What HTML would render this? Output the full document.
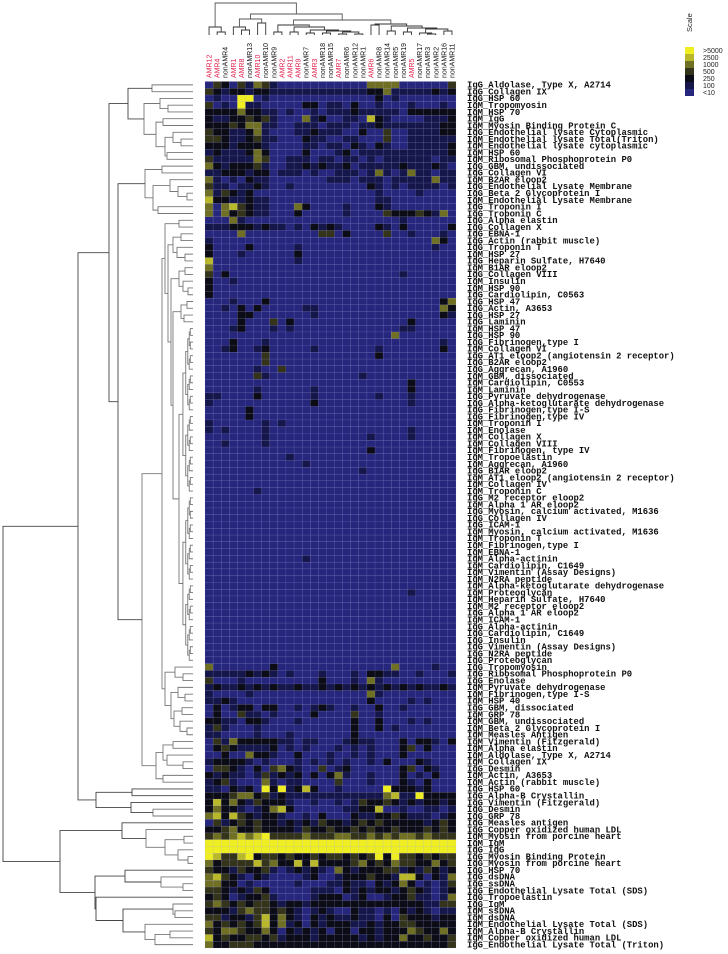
<!DOCTYPE html>
<html><head><meta charset="utf-8"><style>
html,body{margin:0;padding:0;background:#fff;}
svg{display:block;}
</style></head><body>
<svg id="chart" width="728" height="954" viewBox="0 0 728 954" xmlns="http://www.w3.org/2000/svg">
<g id="legend">
<text transform="translate(692,32) rotate(-90)" font-family="Liberation Sans, sans-serif" font-size="7.5" fill="#222">Scale</text>
</g>
<g id="topDendro"></g>
<g id="leftDendro"></g>
<g id="colLabels"></g>
<g id="cells"></g>
<g id="rowLabels"></g>
</svg>
<script>
const colLabels = ["AMR12","AMR4","nonAMR4","AMR1","AMR8","nonAMR13","AMR10","nonAMR10","nonAMR9","AMR2","AMR11","AMR9","nonAMR7","AMR3","nonAMR18","nonAMR15","AMR7","nonAMR6","nonAMR12","nonAMR1","AMR6","nonAMR8","nonAMR14","nonAMR5","nonAMR19","AMR5","nonAMR17","nonAMR3","nonAMR2","nonAMR16","nonAMR11"];
const rowLabels = ["IgG_Aldolase, Type X, A2714","IgG_Collagen IX","IgG_HSP 60","IgM_Tropomyosin","IgM_HSP 70","IgM_IgG","IgM_Myosin Binding Protein C","IgG_Endothelial lysate Cytoplasmic","IgM_Endothelial lysate Total(Triton)","IgM_Endothelial lysate cytoplasmic","IgM_HSP 60","IgM_Ribosomal Phosphoprotein P0","IgG_GBM, undissociated","IgG_Collagen VI","IgM_B2AR eloop2","IgG_Endothelial Lysate Membrane","IgG_Beta 2 Glycoprotein I","IgM_Endothelial Lysate Membrane","IgG_Troponin I","IgG_Troponin C","IgG_Alpha elastin","IgG_Collagen X","IgG_EBNA-1","IgG_Actin (rabbit muscle)","IgG_Troponin T","IgM_HSP 27","IgG_Heparin Sulfate, H7640","IgM_B1AR eloop2","IgG_Collagen VIII","IgM_Insulin","IgM_HSP 90","IgG_Cardiolipin, C0563","IgG_HSP 47","IgG_Actin, A3653","IgG_HSP 27","IgG_Laminin","IgM_HSP 47","IgG_HSP 90","IgG_Fibrinogen,type I","IgM_Collagen VI","IgG_AT1 eloop2 (angiotensin 2 receptor)","IgG_B2AR eloop2","IgG_Aggrecan, A1960","IgM_GBM, dissociated","IgM_Cardiolipin, C0553","IgM_Laminin","IgG_Pyruvate dehydrogenase","IgG_Alpha-ketoglutarate dehydrogenase","IgG_Fibrinogen,type I-S","IgG_Fibrinogen,type IV","IgM_Troponin I","IgM_Enolase","IgM_Collagen X","IgM_Collagen VIII","IgM_Fibrinogen, type IV","IgM_Tropoelastin","IgM_Aggrecan, A1960","IgG_B1AR eloop2","IgM_AT1 eloop2 (angiotensin 2 receptor)","IgM_Collagen IV","IgM_Troponin C","IgG_M2 receptor eloop2","IgM_Alpha 1 AR eloop2","IgG_Myosin, calcium activated, M1636","IgG_Collagen IV","IgG_ICAM-1","IgM_Myosin, calcium activated, M1636","IgM_Troponin T","IgM_Fibrinogen,type I","IgM_EBNA-1","IgM_Alpha-actinin","IgM_Cardiolipin, C1649","IgM_Vimentin (Assay Designs)","IgM_N2RA peptide","IgM_Alpha-ketoglutarate dehydrogenase","IgM_Proteoglycan","IgM_Heparin Sulfate, H7640","IgM_M2 receptor eloop2","IgG_Alpha 1 AR eloop2","IgM_ICAM-1","IgG_Alpha-actinin","IgG_Cardiolipin, C1649","IgG_Insulin","IgG_Vimentin (Assay Designs)","IgG_N2RA peptide","IgG_Proteoglycan","IgG_Tropomyosin","IgG_Ribosomal Phosphoprotein P0","IgG_Enolase","IgM_Pyruvate dehydrogenase","IgM_Fibrinogen,type I-S","IgM_HSP 40","IgG_GBM, dissociated","IgM_GRP 78","IgM_GBM, undissociated","IgM_Beta 2 Glycoprotein I","IgM_Measles Antigen","IgM_Vimentin (Fitzgerald)","IgM_Alpha elastin","IgM_Aldolase, Type X, A2714","IgM_Collagen IX","IgG_Desmin","IgM_Actin, A3653","IgM_Actin (rabbit muscle)","IgG_HSP 60","IgG_Alpha-B Crystallin","IgG_Vimentin (Fitzgerald)","IgG_Desmin","IgG_GRP 78","IgG_Measles antigen","IgG_Copper oxidized human LDL","IgM_Myosin from porcine heart","IgM_IgM","IgG_IgG","IgG_Myosin Binding Protein","IgG_Myosin from porcine heart","IgG_HSP 70","IgG_dsDNA","IgG_ssDNA","IgG_Endothelial Lysate Total (SDS)","IgG_Tropoelastin","IgG_IgM","IgM_ssDNA","IgM_dsDNA","IgM_Endothelial Lysate Total (SDS)","IgM_Alpha-B Crystallin","IgM_Copper oxidized human LDL","IgG_Endothelial Lysate Total (Triton)"];
const legendLabels = [">5000","2500","1000","500","250","100","<10"];
const Z = "0000000000 0000000000 0000000000 0";
const rowLevels = [
"0320314310 0000000000 4444000000 3","3212212211 1111111111 2241111121 2","0100660100 0000000000 0201000000 0","3010611000 0022011020 0100010001 0",
"2222422110 1001011121 1111022222 2","2112232310 0041200110 5210000111 2","2223244110 0111011101 1211111112 2","3221124100 0112111002 0030011112 2",
"3321123110 0021100110 0030011111 1","2221222100 0011011021 0210011111 2","1211124200 0020001201 1111111111 2","3111114300 1110110110 1011111101 1",
"4212223100 1121211201 1111211121 0","1122212201 1101001110 1410141101 1","4101021100 0000011101 1101111141 1","3110112100 1000000000 2101011110 1",
"4132120000 0000000000 0100001000 0","5221121100 0000000000 0110000000 0","4045321100 0420000100 0210000000 0","4042321100 0200000100 0032223214 0",
"0004100000 0000000000 0000100000 0","1112221211 0102121000 0210200000 2","0000400000 0000330200 0030010001 0","1000000000 0000000000 0000000042 0",
"2000020000 0100000000 0000000010 0","2000100000 0200000000 0000000000 0","5000000000 0100000000 0000000000 0","4000000000 0000000000 0000000000 0",
"3020000000 0000000000 0000100000 0","2001000000 0000000000 0000000000 0","2000000000 0000000000 0000000000 0","2000000000 0000000000 0000000000 0",
"0001000200 0000000000 0000000002 4","0010202000 0011000000 0000000004 2","0000220000 0001000000 0000000002 1","0000200030 2000000000 0000020000 0",
"0001200010 1000000000 0000110000 0","0000000000 0000000000 0004000000 0","0002000100 0000000000 0000000001 0","0012001200 0001000000 0100000002 0",
"0000000300 0000000000 0200000000 0","0000000300 0000000000 0000000000 0","0000001003 0000000000 0000000000 0","0000003100 0000000001 0000000000 0",
"0000000000 0000000000 0000020000 0","0000001000 0001000000 0000020000 0","1100002000 0001000000 0100010000 0","1000000000 0002000000 0000010000 0",
"0000020000 0000000000 0000000000 0","0000020000 0000000000 0000000000 0","1000000101 0000000000 0000000000 0","1010000100 0000000000 0000010000 0",
"0000000100 0000000000 1000010000 0","0010000100 0000000000 0000000000 0","0000000000 0000000000 2000000000 0","0000000000 1000000000 0000000000 0",
"0000000000 0010000000 0000000000 0","0000000000 0000000001 0000000000 0",Z,Z,
"0000001000 0000000000 0000000000 0",Z,Z,Z,Z,Z,Z,Z,Z,Z,
"0000000000 0010000000 0000000000 0",Z,Z,Z,Z,
"0000000000 0000000000 0000010000 0",Z,Z,Z,Z,Z,Z,Z,Z,Z,Z,
"4000000020 0000000000 0004000010 0","1111121210 1000100010 2211001000 1","3000100000 0000200010 4100000000 0","1211212121 1211212121 2121212112 1",
"1000010000 0000000000 4100000000 0","1121000000 0000000000 2000010100 0","0201220220 0101210010 0200100000 0","0200311010 0002000030 0100000000 0",
"2211022100 0100000020 0200010100 0","1310001000 0000000020 0201000000 0","1100001000 1000000020 0000000000 0","0314222221 1011000121 1000202210 2",
"0232111120 1010001010 1000230200 0","0020042210 0200010010 1000200000 0","1222210100 0101010100 1020002100 0","0332102034 2100301200 0000230210 0",
"2121101312 1202024100 1000201020 0","1231000410 1100003000 1000210200 0","1102120626 1252001000 0062221200 0","2223442312 1111111111 1145116222 2",
"2524213222 1001001013 2232121221 2","2422101245 2000000112 2500100110 1","4525321221 0010200021 1223211101 2","0312323221 2121322123 2322222123 2",
"2234223222 2132232232 3223222323 2","3434545633 3343334433 4343443433 3","6666666666 6666666666 6666666666 6","6666666666 6666666666 6666666666 6",
"6533562332 3223233232 3626332323 3","4233335342 2525222234 2324332242 3","3221322310 1212104212 2233121321 2","4532102100 0012001222 3221552021 4",
"4422010000 0100011211 0212420101 3","3321213200 0001110212 1221232101 2","2320122310 0001222012 0012231101 4","3432323321 2212222222 2222222113 3",
"2221343323 2101210021 1010212101 1","3312213524 2102121121 1020322212 2","4232323524 1202122211 2122332222 2","3244322420 2121202202 2122243224 2",
"5232233231 2221222221 2122422322 3","4223332222 2222222222 2222222222 3"
];
// dendrogram merge distances (node = [distance, left, right], leaf = index)
const rowTree = [190,
 [115,
  [84,
   [65,[41,0,1],[49,[33,2,[25,3,4]],[37,[30,5,6],[28,[20,7,[12,8,9]],[26,10,11]]]]],
   [75,
    [48,[31,12,13],[40,[23,14,[15,15,[6,16,17]]],[35,18,19]]],
    [51,
     [31,
      [28,[14,20,21],[25,[20,[12,22,23],[16,24,[8,25,26]]],[22,[14,[8,27,28],[10,29,[5,30,31]]],[20,[12,[6,32,33],[9,34,35]],"G"]]]],
      [28,[18,86,[10,87,88]],[22,[15,89,[8,90,91]],[19,[11,92,93],[13,94,[6,95,96]]]]]],
     [37,[30,[20,97,98],[26,99,[10,100,101]]],[30,102,103]]]]],
  [97,[61,104,105],[62,106,[40,107,108]]]],
 [133,
  [71,109,[47,110,[28,[9,111,112],[15,113,[5,114,115]]]]],
  [98,[68,116,[32,117,[10,118,119]]],[97,120,[70,[20,121,[18,122,123]],[48,124,[38,[23,125,126],127]]]]]]];
const colTree = [32,[8,0,[3,1,2]],[21,[16,[8,3,[5,4,5]],[12,6,7]],[15,[10,[3,8,9],[8,[3,10,11],[5,[2,12,13],[4,[2,14,15],[3,[1,16,17],[1,18,19]]]]]],[11,[10,20,21],[9,[4,22,23],[7,[3,24,25],[6,[2,26,[1,27,28]],[4,29,30]]]]]]]];

const palette = ["#26267c","#15164a","#0c0c16","#34341a","#707024","#b8b82a","#eeee22"];
const NS = "http://www.w3.org/2000/svg";
const X0 = 205, X1 = 456, Y0 = 81.5, Y1 = 948;
const nC = colLabels.length, nR = rowLabels.length;
const cw = (X1 - X0) / nC, rh = (Y1 - Y0) / nR;
const colX = c => X0 + cw * c;
const rowY = r => Y0 + rh * r;
function mk(tag, attrs, parent){ const e = document.createElementNS(NS, tag); for (const k in attrs) e.setAttribute(k, attrs[k]); parent.appendChild(e); return e; }

const cellsG = document.getElementById('cells');
rowLevels.forEach((s, r) => {
  const lv = s.replace(/ /g, '');
  for (let c = 0; c < nC; c++) {
    const v = +lv[c] || 0;
    const rect = mk('rect', {x: colX(c).toFixed(2), y: rowY(r).toFixed(2), width: cw.toFixed(2), height: rh.toFixed(2), fill: palette[v], stroke: 'rgba(150,150,230,0.28)', 'stroke-width': 0.4}, cellsG);
    
    
  }
});

const rlG = document.getElementById('rowLabels');
rowLabels.forEach((t, r) => {
  const tx = mk('text', {x: 467, y: (rowY(r) + rh / 2 + 2.8).toFixed(2), 'font-family': 'Liberation Mono, monospace', 'font-size': 8.9, 'font-weight': 'bold', fill: '#111'}, rlG);
  tx.textContent = t;
  
  
});

const clG = document.getElementById('colLabels');
colLabels.forEach((t, c) => {
  const cx = colX(c) + cw / 2 + 2.5;
  const tx = mk('text', {transform: `translate(${cx.toFixed(2)},78) rotate(-90)`, 'font-family': 'Liberation Sans, sans-serif', 'font-size': 7, fill: t.startsWith('AMR') ? '#e0204c' : '#111'}, clG);
  tx.textContent = t;
  
  
});

const ldG = document.getElementById('leftDendro');
const LEAFX = 193;
function expandG(){
  function b(a, z, d){ if (a === z) return a; const m = Math.floor((a + z) / 2); return [d, b(a, m, d * 0.72), b(m + 1, z, d * 0.72)]; }
  return b(36, 85, 14);
}
function lnode(n){
  if (n === "G") n = expandG();
  if (typeof n === 'number') return {x: LEAFX, y: rowY(n) + rh / 2};
  const a = lnode(n[1]), b = lnode(n[2]);
  const x = LEAFX - n[0];
  const col = n[0] > 60 ? '#444' : '#777';
  const p = mk('path', {d: `M${a.x},${a.y}H${x}V${b.y}H${b.x}`, fill: 'none', stroke: col, 'stroke-width': 0.9}, ldG);
  
  
  return {x, y: (a.y + b.y) / 2};
}
lnode(rowTree);

const tdG = document.getElementById('topDendro');
const LEAFY = 35;
function tnode(n){
  if (typeof n === 'number') return {x: colX(n) + cw / 2, y: LEAFY};
  const a = tnode(n[1]), b = tnode(n[2]);
  const y = LEAFY - n[0];
  const p = mk('path', {d: `M${a.x},${a.y}V${y}H${b.x}V${b.y}`, fill: 'none', stroke: n[0] > 12 ? '#555' : '#333', 'stroke-width': 0.9}, tdG);
  
  
  return {x: (a.x + b.x) / 2, y};
}
tnode(colTree);

const lgG = document.getElementById('legend');
legendLabels.forEach((t, i) => {
  const r = mk('rect', {x: 685, y: 47 + i * 7, width: 9, height: 7, fill: palette[6 - i]}, lgG);
  
  
  const tx = mk('text', {x: 703, y: 53 + i * 7, 'font-family': 'Liberation Sans, sans-serif', 'font-size': 7, fill: '#222'}, lgG);
  tx.textContent = t;
  
  
});
</script>
</body></html>
